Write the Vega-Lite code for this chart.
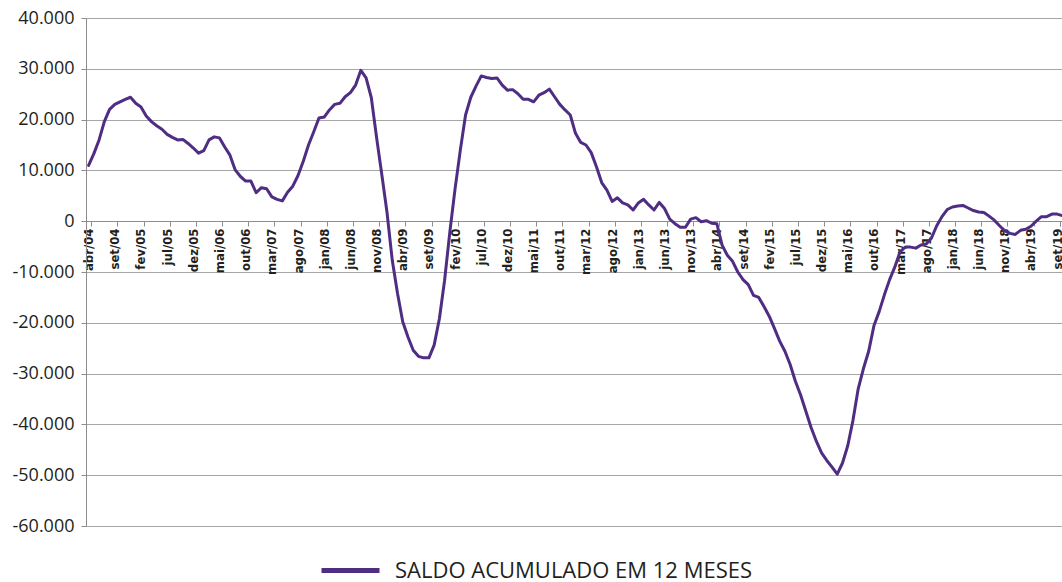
{
  "$schema": "https://vega.github.io/schema/vega-lite/v6.json",
  "width": 979,
  "height": 508,
  "autosize": "none",
  "padding": {"left": 86, "top": 18, "right": 0, "bottom": 58},
  "background": "white",
  "data": {"values": [
    {"m":"abr/04","v":11000},{"m":"mai/04","v":13300},{"m":"jun/04","v":16000},{"m":"jul/04","v":19600},{"m":"ago/04","v":22000},{"m":"set/04","v":23000},{"m":"out/04","v":23500},{"m":"nov/04","v":24000},{"m":"dez/04","v":24400},
    {"m":"jan/05","v":23200},{"m":"fev/05","v":22500},{"m":"mar/05","v":20700},{"m":"abr/05","v":19600},{"m":"mai/05","v":18800},{"m":"jun/05","v":18100},{"m":"jul/05","v":17100},{"m":"ago/05","v":16500},{"m":"set/05","v":16000},{"m":"out/05","v":16100},{"m":"nov/05","v":15300},{"m":"dez/05","v":14400},
    {"m":"jan/06","v":13400},{"m":"fev/06","v":13900},{"m":"mar/06","v":16000},{"m":"abr/06","v":16600},{"m":"mai/06","v":16400},{"m":"jun/06","v":14600},{"m":"jul/06","v":13000},{"m":"ago/06","v":10100},{"m":"set/06","v":8800},{"m":"out/06","v":7900},{"m":"nov/06","v":7900},{"m":"dez/06","v":5600},
    {"m":"jan/07","v":6600},{"m":"fev/07","v":6400},{"m":"mar/07","v":4800},{"m":"abr/07","v":4300},{"m":"mai/07","v":4000},{"m":"jun/07","v":5700},{"m":"jul/07","v":6900},{"m":"ago/07","v":9000},{"m":"set/07","v":11800},{"m":"out/07","v":15000},{"m":"nov/07","v":17600},{"m":"dez/07","v":20300},
    {"m":"jan/08","v":20500},{"m":"fev/08","v":21900},{"m":"mar/08","v":23000},{"m":"abr/08","v":23200},{"m":"mai/08","v":24500},{"m":"jun/08","v":25300},{"m":"jul/08","v":26800},{"m":"ago/08","v":29700},{"m":"set/08","v":28200},{"m":"out/08","v":24300},{"m":"nov/08","v":16500},{"m":"dez/08","v":9200},
    {"m":"jan/09","v":1700},{"m":"fev/09","v":-7700},{"m":"mar/09","v":-14200},{"m":"abr/09","v":-19800},{"m":"mai/09","v":-22800},{"m":"jun/09","v":-25400},{"m":"jul/09","v":-26600},{"m":"ago/09","v":-26900},{"m":"set/09","v":-26900},{"m":"out/09","v":-24400},{"m":"nov/09","v":-19200},{"m":"dez/09","v":-11600},
    {"m":"jan/10","v":-2100},{"m":"fev/10","v":6400},{"m":"mar/10","v":14000},{"m":"abr/10","v":20900},{"m":"mai/10","v":24400},{"m":"jun/10","v":26600},{"m":"jul/10","v":28600},{"m":"ago/10","v":28300},{"m":"set/10","v":28100},{"m":"out/10","v":28200},{"m":"nov/10","v":26800},{"m":"dez/10","v":25800},
    {"m":"jan/11","v":25900},{"m":"fev/11","v":25100},{"m":"mar/11","v":24000},{"m":"abr/11","v":24000},{"m":"mai/11","v":23500},{"m":"jun/11","v":24800},{"m":"jul/11","v":25300},{"m":"ago/11","v":26000},{"m":"set/11","v":24500},{"m":"out/11","v":23000},{"m":"nov/11","v":21900},{"m":"dez/11","v":20900},
    {"m":"jan/12","v":17300},{"m":"fev/12","v":15500},{"m":"mar/12","v":15000},{"m":"abr/12","v":13500},{"m":"mai/12","v":10700},{"m":"jun/12","v":7600},{"m":"jul/12","v":6100},{"m":"ago/12","v":3900},{"m":"set/12","v":4600},{"m":"out/12","v":3600},{"m":"nov/12","v":3200},{"m":"dez/12","v":2200},
    {"m":"jan/13","v":3600},{"m":"fev/13","v":4300},{"m":"mar/13","v":3200},{"m":"abr/13","v":2200},{"m":"mai/13","v":3700},{"m":"jun/13","v":2500},{"m":"jul/13","v":400},{"m":"ago/13","v":-500},{"m":"set/13","v":-1200},{"m":"out/13","v":-1200},{"m":"nov/13","v":400},{"m":"dez/13","v":700},
    {"m":"jan/14","v":-100},{"m":"fev/14","v":100},{"m":"mar/14","v":-400},{"m":"abr/14","v":-500},{"m":"mai/14","v":-4700},{"m":"jun/14","v":-6700},{"m":"jul/14","v":-7900},{"m":"ago/14","v":-10000},{"m":"set/14","v":-11500},{"m":"out/14","v":-12500},{"m":"nov/14","v":-14600},{"m":"dez/14","v":-15000},
    {"m":"jan/15","v":-16800},{"m":"fev/15","v":-18700},{"m":"mar/15","v":-21100},{"m":"abr/15","v":-23600},{"m":"mai/15","v":-25600},{"m":"jun/15","v":-28200},{"m":"jul/15","v":-31500},{"m":"ago/15","v":-34200},{"m":"set/15","v":-37400},{"m":"out/15","v":-40600},{"m":"nov/15","v":-43300},{"m":"dez/15","v":-45600},
    {"m":"jan/16","v":-47100},{"m":"fev/16","v":-48400},{"m":"mar/16","v":-49800},{"m":"abr/16","v":-47600},{"m":"mai/16","v":-44200},{"m":"jun/16","v":-39200},{"m":"jul/16","v":-33000},{"m":"ago/16","v":-29000},{"m":"set/16","v":-25600},{"m":"out/16","v":-20600},{"m":"nov/16","v":-17800},{"m":"dez/16","v":-14500},
    {"m":"jan/17","v":-11500},{"m":"fev/17","v":-9000},{"m":"mar/17","v":-6000},{"m":"abr/17","v":-5100},{"m":"mai/17","v":-5100},{"m":"jun/17","v":-5300},{"m":"jul/17","v":-4700},{"m":"ago/17","v":-4500},{"m":"set/17","v":-3300},{"m":"out/17","v":-900},{"m":"nov/17","v":900},{"m":"dez/17","v":2300},
    {"m":"jan/18","v":2800},{"m":"fev/18","v":3000},{"m":"mar/18","v":3100},{"m":"abr/18","v":2600},{"m":"mai/18","v":2100},{"m":"jun/18","v":1800},{"m":"jul/18","v":1700},{"m":"ago/18","v":1000},{"m":"set/18","v":200},{"m":"out/18","v":-900},{"m":"nov/18","v":-1900},{"m":"dez/18","v":-2400},
    {"m":"jan/19","v":-2600},{"m":"fev/19","v":-1800},{"m":"mar/19","v":-1600},{"m":"abr/19","v":-1000},{"m":"mai/19","v":0},{"m":"jun/19","v":900},{"m":"jul/19","v":900},{"m":"ago/19","v":1400},{"m":"set/19","v":1400},{"m":"out/19","v":1100}
  ]},
  "mark": {"type": "line", "strokeWidth": 3, "strokeJoin": "round", "strokeCap": "round"},
  "encoding": {
    "x": {
      "field": "m", "type": "ordinal", "sort": null,
      "scale": {"type": "band", "paddingInner": 0, "paddingOuter": 0},
      "axis": {
        "title": null, "orient": "bottom", "offset": -305,
        "values": ["abr/04","set/04","fev/05","jul/05","dez/05","mai/06","out/06","mar/07","ago/07","jan/08","jun/08","nov/08","abr/09","set/09","fev/10","jul/10","dez/10","mai/11","out/11","mar/12","ago/12","jan/13","jun/13","nov/13","abr/14","set/14","fev/15","jul/15","dez/15","mai/16","out/16","mar/17","ago/17","jan/18","jun/18","nov/18","abr/19","set/19"],
        "tickBand": "extent",
        "labelAngle": -90,
        "labelFont": "Liberation Sans Narrow, DejaVu Sans Condensed, sans-serif",
        "labelFontWeight": "bold", "labelFontSize": 13, "labelColor": "#231f20",
        "labelPadding": 2, "labelOverlap": false,
        "tickSize": 5, "tickColor": "#8c8c8c", "domainColor": "#8c8c8c", "grid": false
      }
    },
    "y": {
      "field": "v", "type": "quantitative",
      "scale": {"domain": [-60000, 40000], "nice": false},
      "axis": {
        "title": null,
        "values": [-60000,-50000,-40000,-30000,-20000,-10000,0,10000,20000,30000,40000],
        "grid": true, "gridColor": "#a6a6a6", "gridWidth": 1,
        "domainColor": "#8c8c8c", "tickColor": "#8c8c8c", "tickSize": 5,
        "labelFont": "Open Sans", "labelFontSize": 18, "labelColor": "#231f20", "labelPadding": 7,
        "labelExpr": "replace(replace(format(datum.value, ','), ',', '.'), '\u2212', '-')"
      }
    },
    "color": {
      "datum": "SALDO ACUMULADO EM 12 MESES",
      "scale": {"range": ["#4f2d83"]},
      "legend": {
        "orient": "none", "legendX": 233, "legendY": 521, "title": null, "padding": 0,
        "symbolType": "stroke", "symbolSize": 3364, "symbolStrokeWidth": 5,
        "labelFont": "Open Sans", "labelFontSize": 22, "labelColor": "#231f20",
        "labelOffset": 13, "labelLimit": 0
      }
    }
  },
  "config": {"view": {"stroke": null}}
}
